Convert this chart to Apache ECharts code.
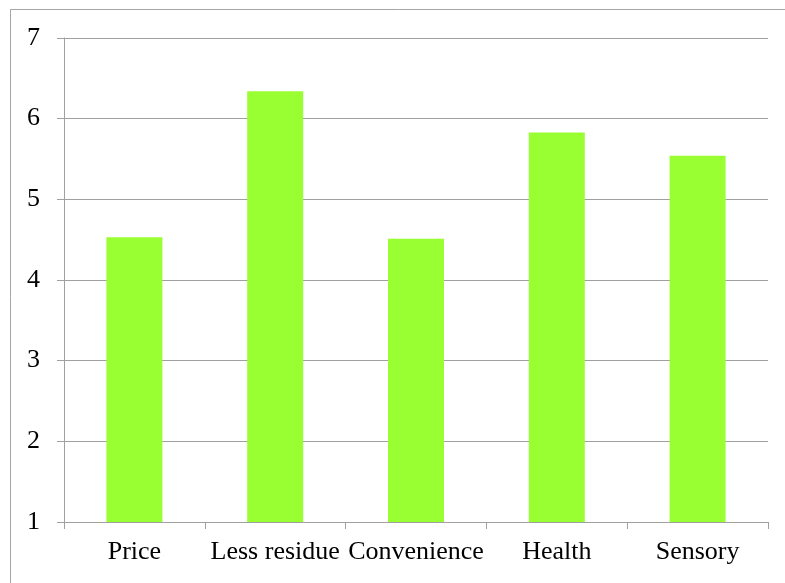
<!DOCTYPE html>
<html lang="en">
  <head>
    <meta charset="UTF-8" />
    <title>ECharts</title>
    <script src="https://cdn.jsdelivr.net/npm/echarts@6/dist/echarts.min.js"></script>
    <style>
      html, body { margin: 0; padding: 0; background: #fff; }
    </style>
  </head>

  <body>
    <div id="main" style="width: 785px; height: 583px"></div>

    <script type="text/javascript">
      // data
      var categories = ["Price", "Less residue", "Convenience", "Health", "Sensory"];
      var scores = [4.53, 6.34, 4.51, 5.83, 5.54];
      var yTicks = [1, 2, 3, 4, 5, 6, 7];

      var myChart = echarts.init(document.getElementById("main"));

      var font = "'Liberation Serif', 'Times New Roman', serif";
      var lineColor = "#a0a0a0";

      var option = {
        animation: false,
        backgroundColor: "#fff",
        graphic: [
          {
            type: "rect",
            shape: { x: 10.5, y: 9.5, width: 820, height: 620 },
            style: { fill: "none", stroke: "#a6a6a6", lineWidth: 1 },
            silent: true,
          },
        ],
        grid: { left: 64, right: 17, top: 38, bottom: 61 },
        xAxis: {
          type: "category",
          data: categories,
          axisLine: { lineStyle: { color: lineColor } },
          axisTick: { show: true, length: 7, lineStyle: { color: lineColor } },
          axisLabel: {
            color: "#000",
            fontFamily: font,
            fontSize: 26,
            margin: 17,
            interval: 0,
          },
        },
        yAxis: {
          type: "value",
          min: yTicks[0],
          max: yTicks[yTicks.length - 1],
          interval: 1,
          axisLine: { show: true, lineStyle: { color: lineColor } },
          axisTick: { show: true, length: 7, lineStyle: { color: lineColor } },
          splitLine: { lineStyle: { color: lineColor, width: 1 } },
          axisLabel: {
            color: "#000",
            fontFamily: font,
            fontSize: 26,
            margin: 24,
          },
        },
        series: [
          {
            type: "bar",
            data: scores,
            barWidth: 56,
            itemStyle: { color: "#99ff33" },
          },
        ],
      };

      myChart.setOption(option);
    </script>
  </body>
</html>
